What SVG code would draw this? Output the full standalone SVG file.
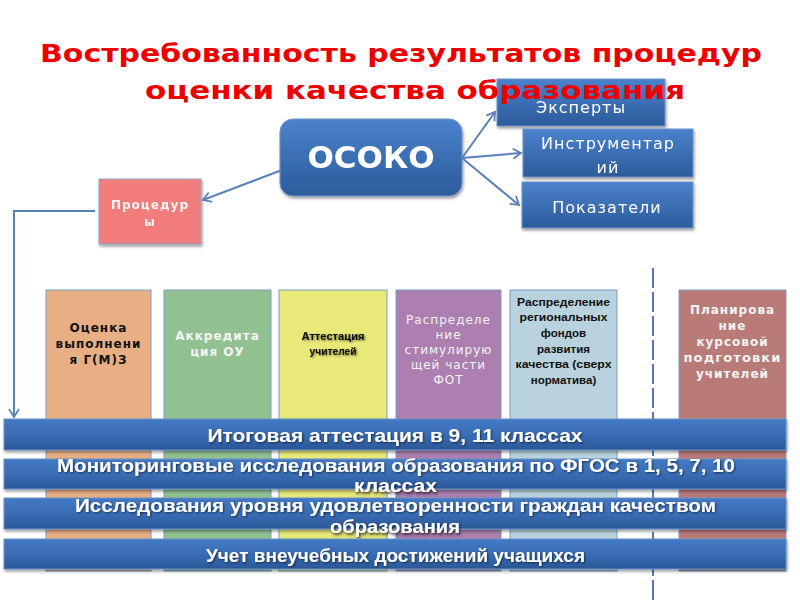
<svg xmlns="http://www.w3.org/2000/svg" width="800" height="600" viewBox="0 0 800 600">
<defs>
<linearGradient id="gBlue" x1="0" y1="0" x2="0" y2="1">
<stop offset="0" stop-color="#4A82CC"/>
<stop offset="1" stop-color="#2C5B9B"/>
</linearGradient>
<linearGradient id="gBand" x1="0" y1="0" x2="0" y2="1">
<stop offset="0" stop-color="#4379C4"/>
<stop offset="0.5" stop-color="#3A6DB5"/>
<stop offset="1" stop-color="#2A5796"/>
</linearGradient>
<filter id="sh" x="-5%" y="-20%" width="110%" height="150%">
<feGaussianBlur in="SourceAlpha" stdDeviation="1.5"/>
<feOffset dx="1" dy="2" result="b"/>
<feComponentTransfer><feFuncA type="linear" slope="0.4"/></feComponentTransfer>
<feMerge><feMergeNode/><feMergeNode in="SourceGraphic"/></feMerge>
</filter>
<filter id="tsh" x="-5%" y="-30%" width="110%" height="160%">
<feGaussianBlur in="SourceAlpha" stdDeviation="1"/>
<feOffset dx="1" dy="1"/>
<feComponentTransfer><feFuncA type="linear" slope="0.6"/></feComponentTransfer>
<feMerge><feMergeNode/><feMergeNode in="SourceGraphic"/></feMerge>
</filter>
<marker id="arr" markerWidth="12" markerHeight="12" refX="10" refY="6" orient="auto" markerUnits="userSpaceOnUse">
<path d="M2,1 L10,6 L2,11" fill="none" stroke="#5A80B8" stroke-width="1.8"/>
</marker>
<style>
.col{stroke:#7C9CC6;stroke-width:1}
.blk{fill:#111;font-family:"DejaVu Sans",sans-serif;font-weight:bold;font-size:12px;text-anchor:middle;letter-spacing:1px}
.wht{fill:#F4F4F4;font-family:"DejaVu Sans",sans-serif;font-weight:bold;font-size:12px;text-anchor:middle;letter-spacing:1px}
.thin{fill:#F4F4F4;font-family:"DejaVu Sans",sans-serif;font-size:12px;text-anchor:middle;letter-spacing:1px}
.cal{fill:#111;font-family:"Liberation Sans",sans-serif;font-weight:bold;font-size:11.5px;text-anchor:middle}
.band{fill:url(#gBand);stroke:#6E93C6;stroke-width:1}
.btxt{fill:#fff;font-family:"Liberation Sans",sans-serif;font-weight:bold;font-size:18px;text-anchor:middle}
.box{fill:url(#gBlue);stroke:#6E93C6;stroke-width:1}
.boxt{fill:#fff;font-family:"DejaVu Sans",sans-serif;font-size:16px;text-anchor:middle;letter-spacing:1px}
.conn{fill:none;stroke:#5A80B8;stroke-width:2}
.title{fill:#EE0000;font-family:"DejaVu Sans",sans-serif;font-weight:bold;font-size:25px}
</style>
</defs>
<rect width="800" height="600" fill="#fff"/>

<g id="dashed-line"><line x1="653" y1="268" x2="653" y2="600" stroke="#4F7AB5" stroke-width="2" stroke-dasharray="20 4"/></g>

<g id="col1"><rect class="col" x="46" y="290" width="105" height="281" fill="#E8AE84"/>
<text class="blk" x="98.5" y="332">Оценка</text><text class="blk" x="98.5" y="348">выполнени</text><text class="blk" x="98.5" y="364">я Г(М)З</text></g>
<g id="col2"><rect class="col" x="164" y="290" width="107" height="281" fill="#92C191"/>
<text class="wht" x="217.5" y="340">Аккредита</text><text class="wht" x="217.5" y="356">ция ОУ</text></g>
<g id="col3"><rect class="col" x="279" y="290" width="108" height="281" fill="#E9E97A"/>
<text class="cal" x="333" y="340" font-size="12.5" textLength="63" lengthAdjust="spacingAndGlyphs" filter="url(#tsh)">Аттестация</text><text class="cal" x="333" y="355" font-size="12.5" textLength="47" lengthAdjust="spacingAndGlyphs" filter="url(#tsh)">учителей</text></g>
<g id="col4"><rect class="col" x="396" y="290" width="105" height="281" fill="#AC7FB0"/>
<text class="thin" x="448.5" y="324">Распределе</text><text class="thin" x="448.5" y="339">ние</text><text class="thin" x="448.5" y="354">стимулирую</text><text class="thin" x="448.5" y="369">щей части</text><text class="thin" x="448.5" y="384">ФОТ</text></g>
<g id="col5"><rect class="col" x="510" y="290" width="107" height="281" fill="#B8D3DE"/>
<text class="cal" x="563.5" y="306" textLength="93" lengthAdjust="spacingAndGlyphs">Распределение</text>
<text class="cal" x="563.5" y="321" textLength="88" lengthAdjust="spacingAndGlyphs">региональных</text>
<text class="cal" x="563.5" y="337">фондов</text>
<text class="cal" x="563.5" y="353">развития</text>
<text class="cal" x="563.5" y="368" textLength="96" lengthAdjust="spacingAndGlyphs">качества (сверх</text>
<text class="cal" x="563.5" y="384">норматива)</text></g>
<g id="col6"><rect class="col" x="679" y="290" width="107" height="281" fill="#B97B78"/>
<text class="wht" x="732.5" y="314">Планирова</text><text class="wht" x="732.5" y="330">ние</text><text class="wht" x="732.5" y="346">курсовой</text><text class="wht" x="732.5" y="362" textLength="98" lengthAdjust="spacingAndGlyphs">подготовки</text><text class="wht" x="732.5" y="378">учителей</text></g>

<g id="band1" filter="url(#sh)"><rect class="band" x="4" y="419" width="782" height="31"/>
<text class="btxt" x="395" y="442" textLength="375" lengthAdjust="spacingAndGlyphs" filter="url(#tsh)">Итоговая аттестация в 9, 11 классах</text></g>
<g id="band2" filter="url(#sh)"><rect class="band" x="4" y="459" width="782" height="30"/>
<text class="btxt" x="396" y="472" textLength="678" lengthAdjust="spacingAndGlyphs" filter="url(#tsh)">Мониторинговые исследования образования по ФГОС в 1, 5, 7, 10</text>
<text class="btxt" x="395.5" y="492" textLength="83" lengthAdjust="spacingAndGlyphs" filter="url(#tsh)">классах</text></g>
<g id="band3" filter="url(#sh)"><rect class="band" x="4" y="498" width="782" height="31"/>
<text class="btxt" x="395.5" y="512" textLength="641" lengthAdjust="spacingAndGlyphs" filter="url(#tsh)">Исследования уровня удовлетворенности граждан качеством</text>
<text class="btxt" x="395" y="533" textLength="130" lengthAdjust="spacingAndGlyphs" filter="url(#tsh)">образования</text></g>
<g id="band4" filter="url(#sh)"><rect class="band" x="4" y="539" width="782" height="30"/>
<text class="btxt" x="395.5" y="562" textLength="379" lengthAdjust="spacingAndGlyphs" filter="url(#tsh)">Учет внеучебных достижений учащихся</text></g>

<g id="procedury" filter="url(#sh)"><rect x="99" y="179" width="102" height="65" fill="#F07C7C" stroke="#8FA8C8" stroke-width="1"/>
<text class="wht" x="150" y="209" font-size="11.5">Процедур</text><text class="wht" x="150" y="226" font-size="11.5">ы</text></g>

<g id="osoko" filter="url(#sh)"><rect class="box" x="280" y="119" width="182" height="77" rx="13"/>
<text x="371" y="168" fill="#fff" font-family="'DejaVu Sans',sans-serif" font-weight="bold" font-size="31" text-anchor="middle">ОСОКО</text></g>

<g id="eksperty" filter="url(#sh)"><rect class="box" x="497" y="79" width="168" height="47"/>
<text class="boxt" x="581" y="113">Эксперты</text></g>
<g id="instrumentariy" filter="url(#sh)"><rect class="box" x="523" y="129" width="170" height="48"/>
<text class="boxt" x="608" y="149">Инструментар</text><text class="boxt" x="608" y="173">ий</text></g>
<g id="pokazateli" filter="url(#sh)"><rect class="box" x="522" y="182" width="171" height="46"/>
<text class="boxt" x="607" y="213">Показатели</text></g>

<g id="connectors">
<path class="conn" d="M462,158 L495,112" marker-end="url(#arr)"/>
<path class="conn" d="M462,158 L521,153" marker-end="url(#arr)"/>
<path class="conn" d="M462,158 L519,205" marker-end="url(#arr)"/>
<path class="conn" d="M282,170 L203,200" marker-end="url(#arr)"/>
<path class="conn" d="M95,211 L14,211 L14,417" marker-end="url(#arr)"/>
</g>

<g id="title">
<text class="title" x="40" y="62" textLength="722" lengthAdjust="spacingAndGlyphs">Востребованность результатов процедур</text>
<text class="title" x="145" y="99" textLength="540" lengthAdjust="spacingAndGlyphs">оценки качества образования</text>
</g>
</svg>
